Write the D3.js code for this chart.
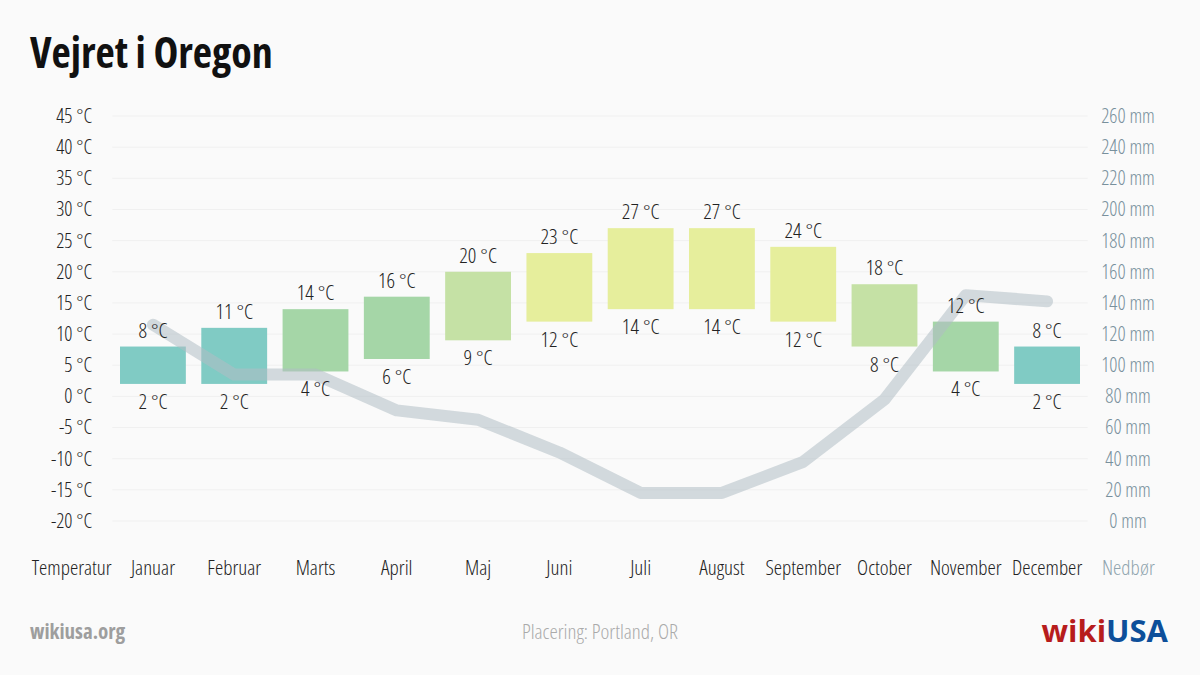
<!DOCTYPE html>
<html>
<head>
<meta charset="utf-8">
<script src="https://cdn.jsdelivr.net/npm/d3@7"></script>
<style>
  html, body { margin: 0; padding: 0; background: #fafafa; }
  svg { display: block; font-family: "Open Sans", sans-serif; font-stretch: 75%; }
</style>
</head>
<body>
<svg id="chart" width="1200" height="675"></svg>
<script>
const months = ["Januar","Februar","Marts","April","Maj","Juni","Juli","August","September","October","November","December"];
const tempMax = [8, 11, 14, 16, 20, 23, 27, 27, 24, 18, 12, 8];
const tempMin = [2, 2, 4, 6, 9, 12, 14, 14, 12, 8, 4, 2];
const precip = [126, 94, 94, 71, 65, 44, 18, 18, 38, 78, 145, 141];
const tempTicks = [45, 40, 35, 30, 25, 20, 15, 10, 5, 0, -5, -10, -15, -20];
const precipTicks = [260, 240, 220, 200, 180, 160, 140, 120, 100, 80, 60, 40, 20, 0];
const leftLabel = "Temperatur";
const rightLabel = "Nedbør";
const chartTitle = "Vejret i Oregon";
const placeText = "Placering: Portland, OR";

const svg = d3.select("#chart");

const x = d3.scaleBand()
  .domain([leftLabel, ...months, rightLabel])
  .range([31, 1169])
  .paddingInner(0.19)
  .paddingOuter(0.095);
const yT = d3.scaleLinear().domain([-20, 45]).range([521, 116]);
const yP = d3.scaleLinear().domain([0, 260]).range([521, 116]);

function colorFor(max) {
  if (max >= 21) return "#e6ee9c";
  if (max >= 17) return "#c5e1a5";
  if (max >= 12) return "#a5d6a7";
  return "#80cbc4";
}

// Title
svg.append("text").attr("x", 30).attr("y", 68)
  .attr("font-size", 42).attr("font-weight", 700).attr("fill", "#111")
  .text(chartTitle);

// Grid lines
const gx0 = x(months[0]) - x.step() * x.paddingInner() / 2;
const gx1 = x(months[11]) + x.bandwidth() + x.step() * x.paddingInner() / 2;
svg.append("g").selectAll("line").data(tempTicks).join("line")
  .attr("x1", gx0).attr("x2", gx1)
  .attr("y1", d => yT(d)).attr("y2", d => yT(d))
  .attr("stroke", "#f0f0f0").attr("stroke-width", 1);

// Left axis
const leftAxis = d3.axisLeft(yT).tickValues(tempTicks).tickSize(0).tickPadding(0)
  .tickFormat(d => d + " °C");
const gl = svg.append("g").attr("transform", "translate(92,0)").call(leftAxis);
gl.select(".domain").remove();
gl.selectAll("text").attr("font-size", 20).attr("fill", "#222").attr("font-weight", 300)
  .attr("font-family", "Open Sans").style("font-stretch", "75%");

// Right axis
const rightAxis = d3.axisRight(yP).tickValues(precipTicks).tickSize(0).tickPadding(0)
  .tickFormat(d => d + " mm");
const gr = svg.append("g").attr("transform", "translate(1128,0)").call(rightAxis);
gr.select(".domain").remove();
gr.selectAll("text").attr("font-size", 20).attr("fill", "#78909c").attr("font-weight", 300)
  .attr("text-anchor", "middle")
  .attr("font-family", "Open Sans").style("font-stretch", "75%");

// Bars
svg.append("g").selectAll("rect").data(months).join("rect")
  .attr("x", d => x(d))
  .attr("width", x.bandwidth())
  .attr("y", (d, i) => yT(tempMax[i]))
  .attr("height", (d, i) => yT(tempMin[i]) - yT(tempMax[i]))
  .attr("fill", (d, i) => colorFor(tempMax[i]));

// Precip line
const line = d3.line()
  .x((d, i) => x(months[i]) + x.bandwidth() / 2)
  .y(d => yP(d));
svg.append("path").datum(precip)
  .attr("d", line)
  .attr("fill", "none")
  .attr("stroke", "#b0bec5")
  .attr("stroke-opacity", 0.55)
  .attr("stroke-width", 12)
  .attr("stroke-linecap", "round")
  .attr("stroke-linejoin", "round");

// Labels
const lbl = svg.append("g").attr("font-size", 21).attr("font-weight", 300)
  .attr("fill", "#222").attr("text-anchor", "middle");
lbl.selectAll("text.max").data(months).join("text").attr("class", "max")
  .attr("x", d => x(d) + x.bandwidth() / 2)
  .attr("y", (d, i) => yT(tempMax[i]) - 9)
  .text((d, i) => tempMax[i] + " °C");
lbl.selectAll("text.min").data(months).join("text").attr("class", "min")
  .attr("x", d => x(d) + x.bandwidth() / 2)
  .attr("y", (d, i) => yT(tempMin[i]) + 25)
  .text((d, i) => tempMin[i] + " °C");

// Bottom category labels
const bottomAxis = d3.axisBottom(x).tickSize(0).tickPadding(0);
const gb = svg.append("g").attr("transform", "translate(0,568)").call(bottomAxis);
gb.select(".domain").remove();
gb.selectAll("text").attr("font-size", 21).attr("font-weight", 300).attr("dy", "0.32em")
  .attr("font-family", "Open Sans").style("font-stretch", "75%")
  .attr("fill", d => d === rightLabel ? "#90a4ae" : "#222");

// Footer
svg.append("text").attr("x", 30).attr("y", 639)
  .attr("font-size", 21).attr("font-weight", 700).attr("fill", "#9e9e9e")
  .text("wikiusa.org");
svg.append("text").attr("x", 600).attr("y", 639).attr("text-anchor", "middle")
  .attr("font-size", 21).attr("font-weight", 300).attr("fill", "#aaaaaa")
  .text(placeText);
const logo = svg.append("text").attr("x", 1168).attr("y", 642).attr("text-anchor", "end")
  .attr("font-size", 31).attr("font-weight", 700)
  .style("font-stretch", "100%");
logo.append("tspan").attr("fill", "#b71c1c").text("wiki");
logo.append("tspan").attr("fill", "#0d4f9a").text("USA");
</script>
</body>
</html>
